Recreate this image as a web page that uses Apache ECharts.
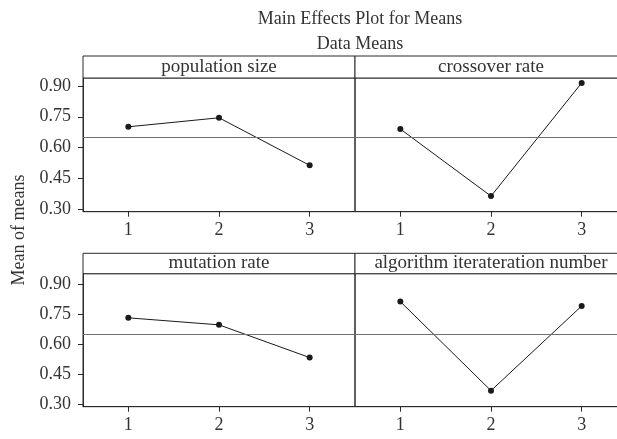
<!DOCTYPE html>
<html>
<head>
<meta charset="utf-8">
<script src="https://cdn.jsdelivr.net/npm/echarts@6/dist/echarts.min.js"></script>
<style>
    html, body { margin: 0; padding: 0; background: #fff; }
    #main { width: 617px; height: 439px; }
</style>
</head>
<body>
<div id="main"></div>
<script>
'use strict';

// factor levels
const levels = ['1', '2', '3']

// panel names
const factorNames = ['population size', 'crossover rate', 'mutation rate', 'algorithm iterateration number']

// means per level
const populationSize = [0.701, 0.745, 0.513]
const crossoverRate = [0.690, 0.363, 0.915]
const mutationRate = [0.731, 0.696, 0.533]
const iterationNumber = [0.812, 0.368, 0.790]

// overall mean reference line
const grandMean = 0.65

// y tick labels
const yTicks = [0.30, 0.45, 0.60, 0.75, 0.90]

const FONT = 'Liberation Serif'

// layout of the 2x2 panels (right column runs past the canvas edge)
const panelLeft = [83, 355]
const panelRight = [617 - 355, -10]
const panelWidth = 272
const rowTop = [78, 273.7]
const rowBottom = [439 - 211.7, 439 - 406.7]
const stripHeight = [22, 20.4]
const rowMin = [0.287, 0.288]
const rowMax = [0.939, 0.951]

const panelData = [populationSize, crossoverRate, mutationRate, iterationNumber]

const chart = echarts.init(document.getElementById('main'))

const grids = []
const xAxes = []
const yAxes = []
const series = []
const graphics = []

panelData.forEach((values, i) => {
    const row = Math.floor(i / 2)
    const col = i % 2
    grids.push({
        left: panelLeft[col],
        right: panelRight[col],
        top: rowTop[row],
        bottom: rowBottom[row],
        outerBoundsMode: 'none',
        containLabel: false,
        show: true,
        borderColor: '#2a2a2a',
        borderWidth: 1
    })
    xAxes.push({
        type: 'category',
        gridIndex: i,
        data: levels,
        boundaryGap: true,
        axisLine: { show: true, lineStyle: { color: '#2a2a2a' } },
        axisTick: { show: true, alignWithLabel: true, length: 5, lineStyle: { color: '#2a2a2a' } },
        axisLabel: { fontFamily: FONT, fontSize: 18, color: '#333', margin: 10 },
        splitLine: { show: false }
    })
    yAxes.push({
        type: 'value',
        gridIndex: i,
        min: rowMin[row],
        max: rowMax[row],
        axisLine: { show: col == 0, lineStyle: { color: '#2a2a2a' } },
        axisTick: { show: col == 0, length: 5, customValues: yTicks, lineStyle: { color: '#2a2a2a' } },
        axisLabel: {
            show: col == 0,
            customValues: yTicks,
            fontFamily: FONT,
            fontSize: 18,
            color: '#333',
            margin: 12,
            formatter: v => v.toFixed(2)
        },
        splitLine: { show: false }
    })
    series.push({
        type: 'line',
        xAxisIndex: i,
        yAxisIndex: i,
        data: values,
        symbol: 'circle',
        symbolSize: 6,
        itemStyle: { color: '#1a1a1a' },
        lineStyle: { color: '#1a1a1a', width: 1 },
        animation: false,
        markLine: {
            silent: true,
            symbol: 'none',
            label: { show: false },
            lineStyle: { color: '#707070', type: 'solid', width: 1 },
            data: [{ yAxis: grandMean }]
        }
    })
    //strip above each panel
    graphics.push({
        type: 'rect',
        shape: {
            x: panelLeft[col],
            y: rowTop[row] - stripHeight[row],
            width: panelWidth,
            height: stripHeight[row]
        },
        style: { fill: '#fff', stroke: '#2a2a2a', lineWidth: 1 }
    })
    graphics.push({
        type: 'text',
        x: panelLeft[col] + panelWidth / 2,
        y: rowTop[row] - stripHeight[row] / 2,
        style: {
            text: factorNames[i],
            fill: '#333',
            font: '19px "' + FONT + '"',
            textAlign: 'center',
            textVerticalAlign: 'middle'
        }
    })
})

//y axis name
graphics.push({
    type: 'text',
    x: 19,
    y: 230,
    rotation: Math.PI / 2,
    style: {
        text: 'Mean of means',
        fill: '#333',
        font: '18px "' + FONT + '"',
        textAlign: 'center',
        textVerticalAlign: 'middle'
    }
})

const option = {
    backgroundColor: '#fff',
    animation: false,
    title: [{
        text: 'Main Effects Plot for Means',
        left: 355,
        top: 5,
        textAlign: 'center',
        textStyle: { fontFamily: FONT, fontSize: 18, fontWeight: 'normal', color: '#333' }
    }, {
        text: 'Data Means',
        left: 355,
        top: 30,
        textAlign: 'center',
        textStyle: { fontFamily: FONT, fontSize: 18, fontWeight: 'normal', color: '#333' }
    }],
    grid: grids,
    xAxis: xAxes,
    yAxis: yAxes,
    series: series,
    graphic: graphics
}
chart.setOption(option)
</script>
</body>
</html>
